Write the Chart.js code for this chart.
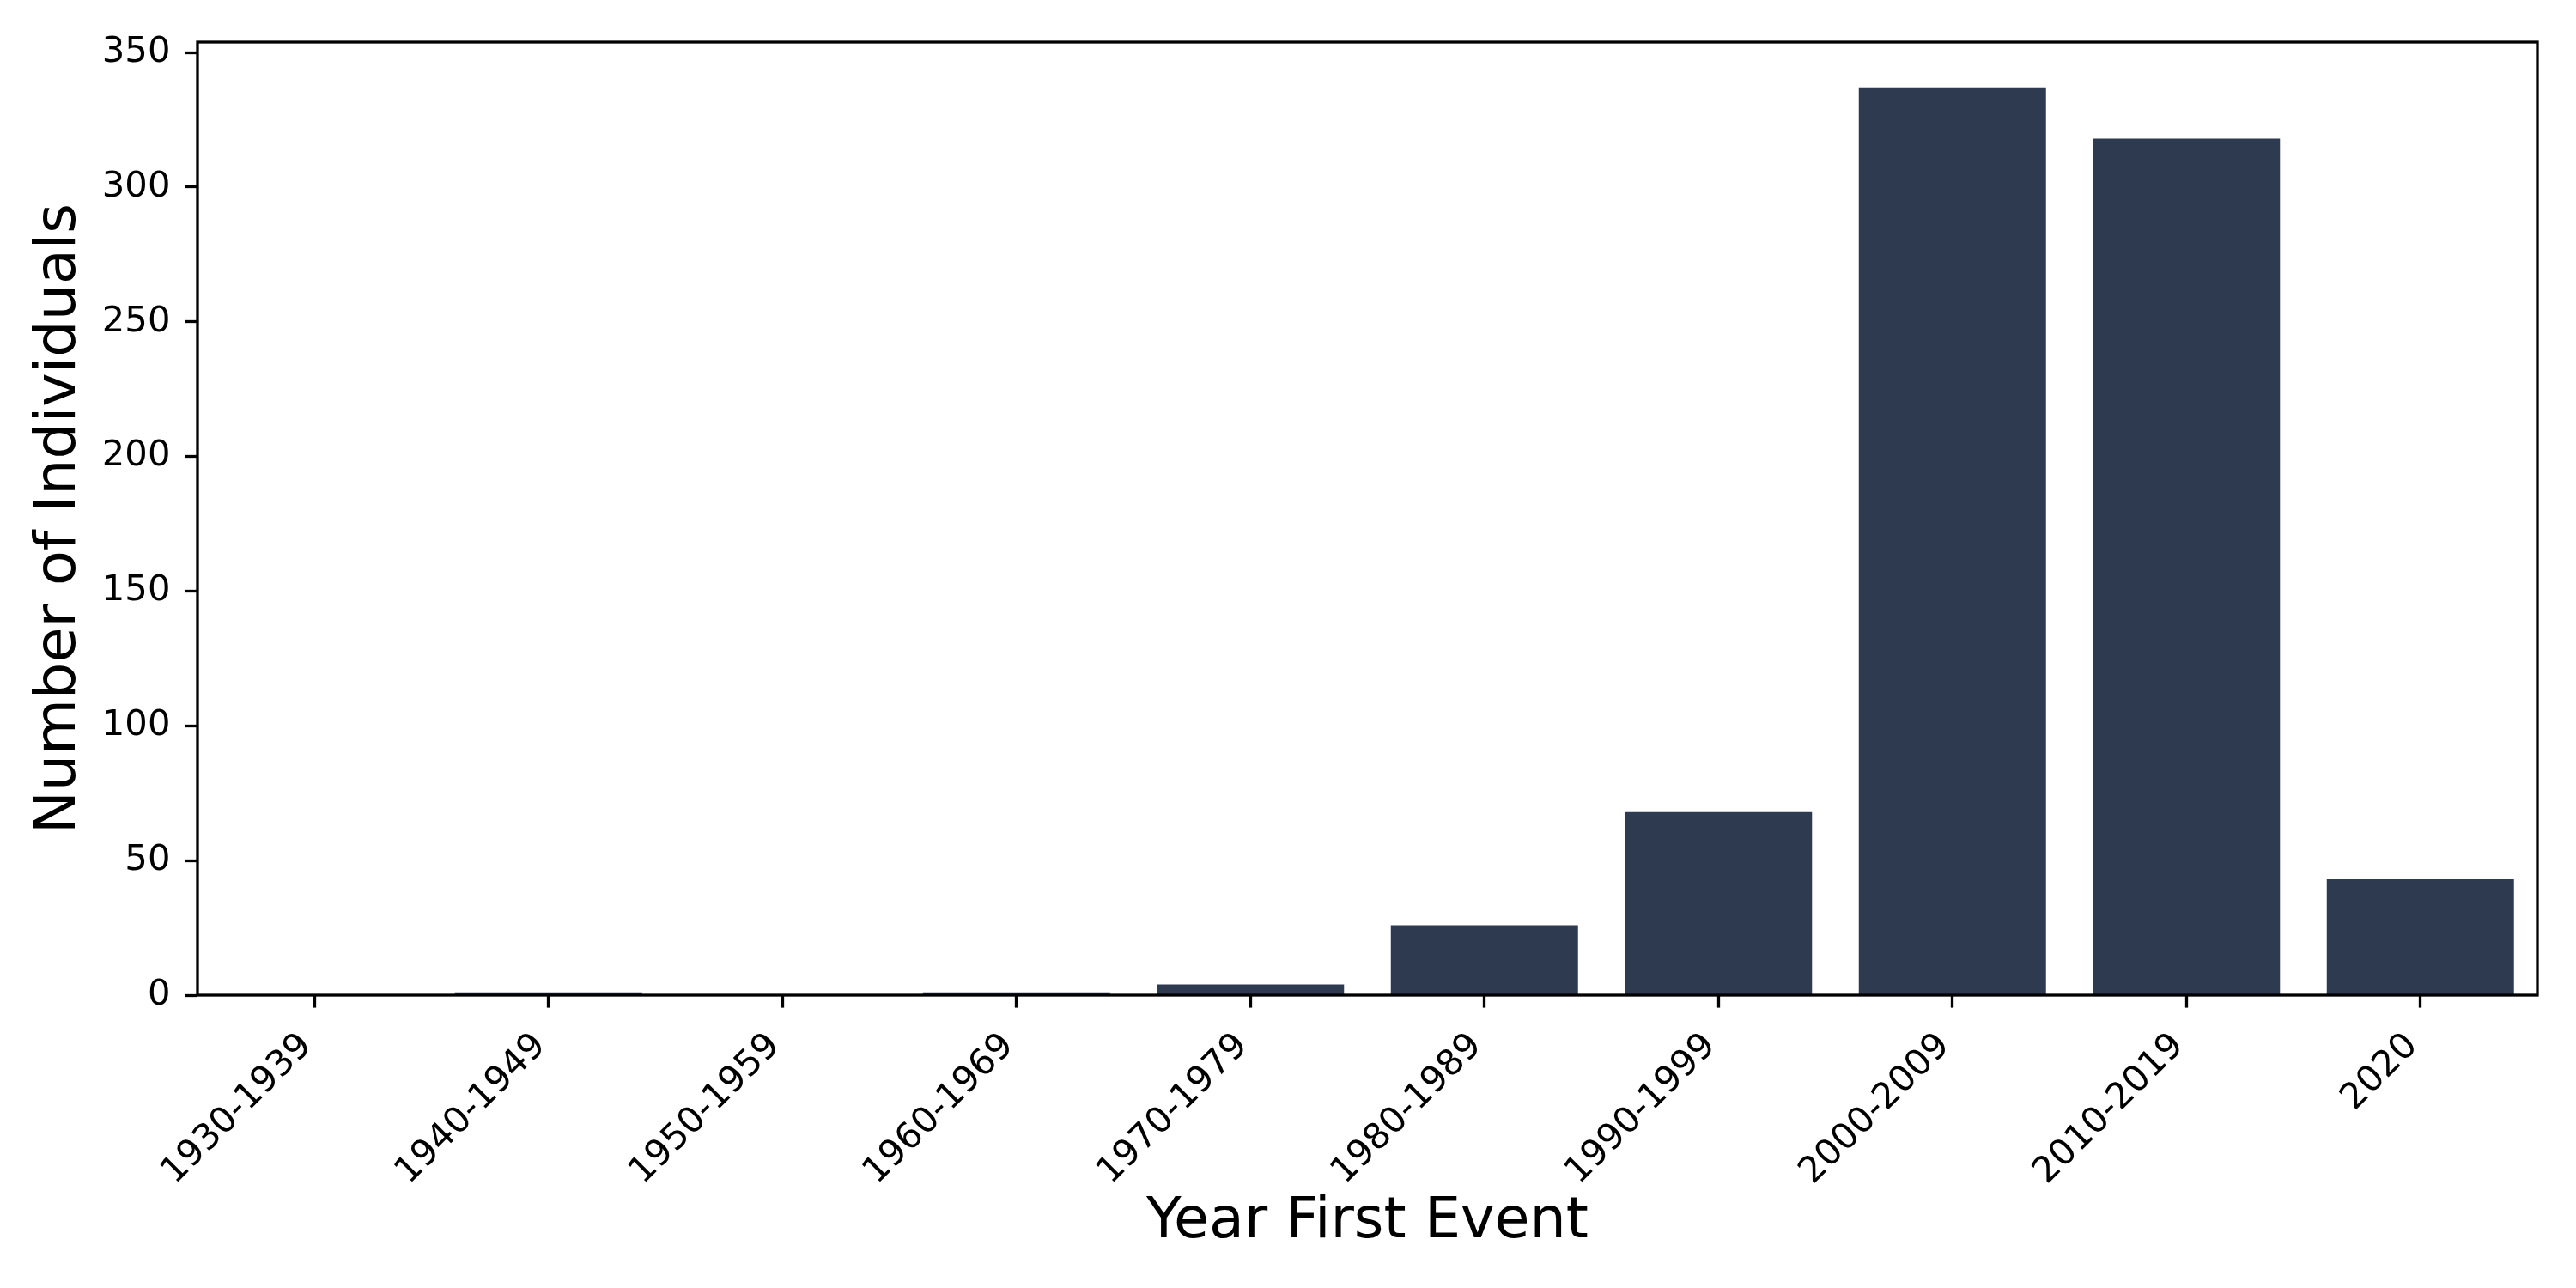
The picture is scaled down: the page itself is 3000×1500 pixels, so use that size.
<!DOCTYPE html>
<html>
<head>
<meta charset="utf-8">
<script src="https://cdn.jsdelivr.net/npm/chart.js@4.4.1/dist/chart.umd.min.js"></script>
<style>
  html, body { margin: 0; padding: 0; background: #fff; }
  canvas { display: block; }
</style>
</head>
<body>
<canvas id="grafico" width="3000" height="1500" style="width:3000px;height:1500px"></canvas>
<script>
// decades of first event and counts
const decadas = ['1930-1939', '1940-1949', '1950-1959', '1960-1969', '1970-1979',
                 '1980-1989', '1990-1999', '2000-2009', '2010-2019', '2020'];
const individuos = [0, 1, 0, 1, 4, 26, 68, 337, 318, 43];
const ticksY = [0, 50, 100, 150, 200, 250, 300, 350];

const corBarra = '#2e3a50';
const fonte = 'DejaVu Sans';

// frame around the plot area, like matplotlib spines
const moldura = {
    id: 'moldura',
    afterDraw(chart) {
        const { ctx, chartArea: a } = chart;
        ctx.save();
        ctx.strokeStyle = '#000';
        ctx.lineWidth = 3.3;
        ctx.strokeRect(a.left, a.top, a.right - a.left, a.bottom - a.top);
        ctx.restore();
    }
};

new Chart(document.getElementById('grafico'), {
    type: 'bar',
    data: {
        labels: decadas,
        datasets: [{
            data: individuos,
            backgroundColor: corBarra,
            borderWidth: 0,
            barPercentage: 0.8,
            categoryPercentage: 1.0
        }]
    },
    options: {
        responsive: false,
        devicePixelRatio: 1,
        animation: false,
        layout: { padding: { top: 49, right: 45, left: 0, bottom: 0 } },
        plugins: { legend: { display: false }, tooltip: { enabled: false } },
        scales: {
            x: {
                grid: { offset: false, drawOnChartArea: false, drawTicks: true,
                        tickLength: 14.6, tickWidth: 3.3, tickColor: '#000' },
                border: { display: false },
                ticks: {
                    autoSkip: false, maxRotation: 45, minRotation: 45, padding: 11,
                    color: '#000', font: { family: fonte, size: 41.7 },
                    callback: function (v) { return this.getLabelForValue(v) + ' '; }
                },
                title: { display: true, text: 'Year First Event', color: '#000',
                         font: { family: fonte, size: 66.7 }, padding: { top: 0, bottom: 36 } },
                afterFit: s => { s.height = 341; }
            },
            y: {
                min: 0,
                max: Math.max(...individuos) * 1.05,
                grid: { drawOnChartArea: false, drawTicks: true,
                        tickLength: 14.6, tickWidth: 3.3, tickColor: '#000' },
                border: { display: false },
                afterBuildTicks: s => { s.ticks = ticksY.map(v => ({ value: v })); },
                ticks: { padding: 17, color: '#000', font: { family: fonte, size: 41.7 } },
                title: { display: true, text: 'Number of Individuals', color: '#000',
                         font: { family: fonte, size: 66.7 }, padding: { top: 30, bottom: 0 } },
                afterFit: s => { s.width = 230; }
            }
        }
    },
    plugins: [moldura]
});
</script>
</body>
</html>
